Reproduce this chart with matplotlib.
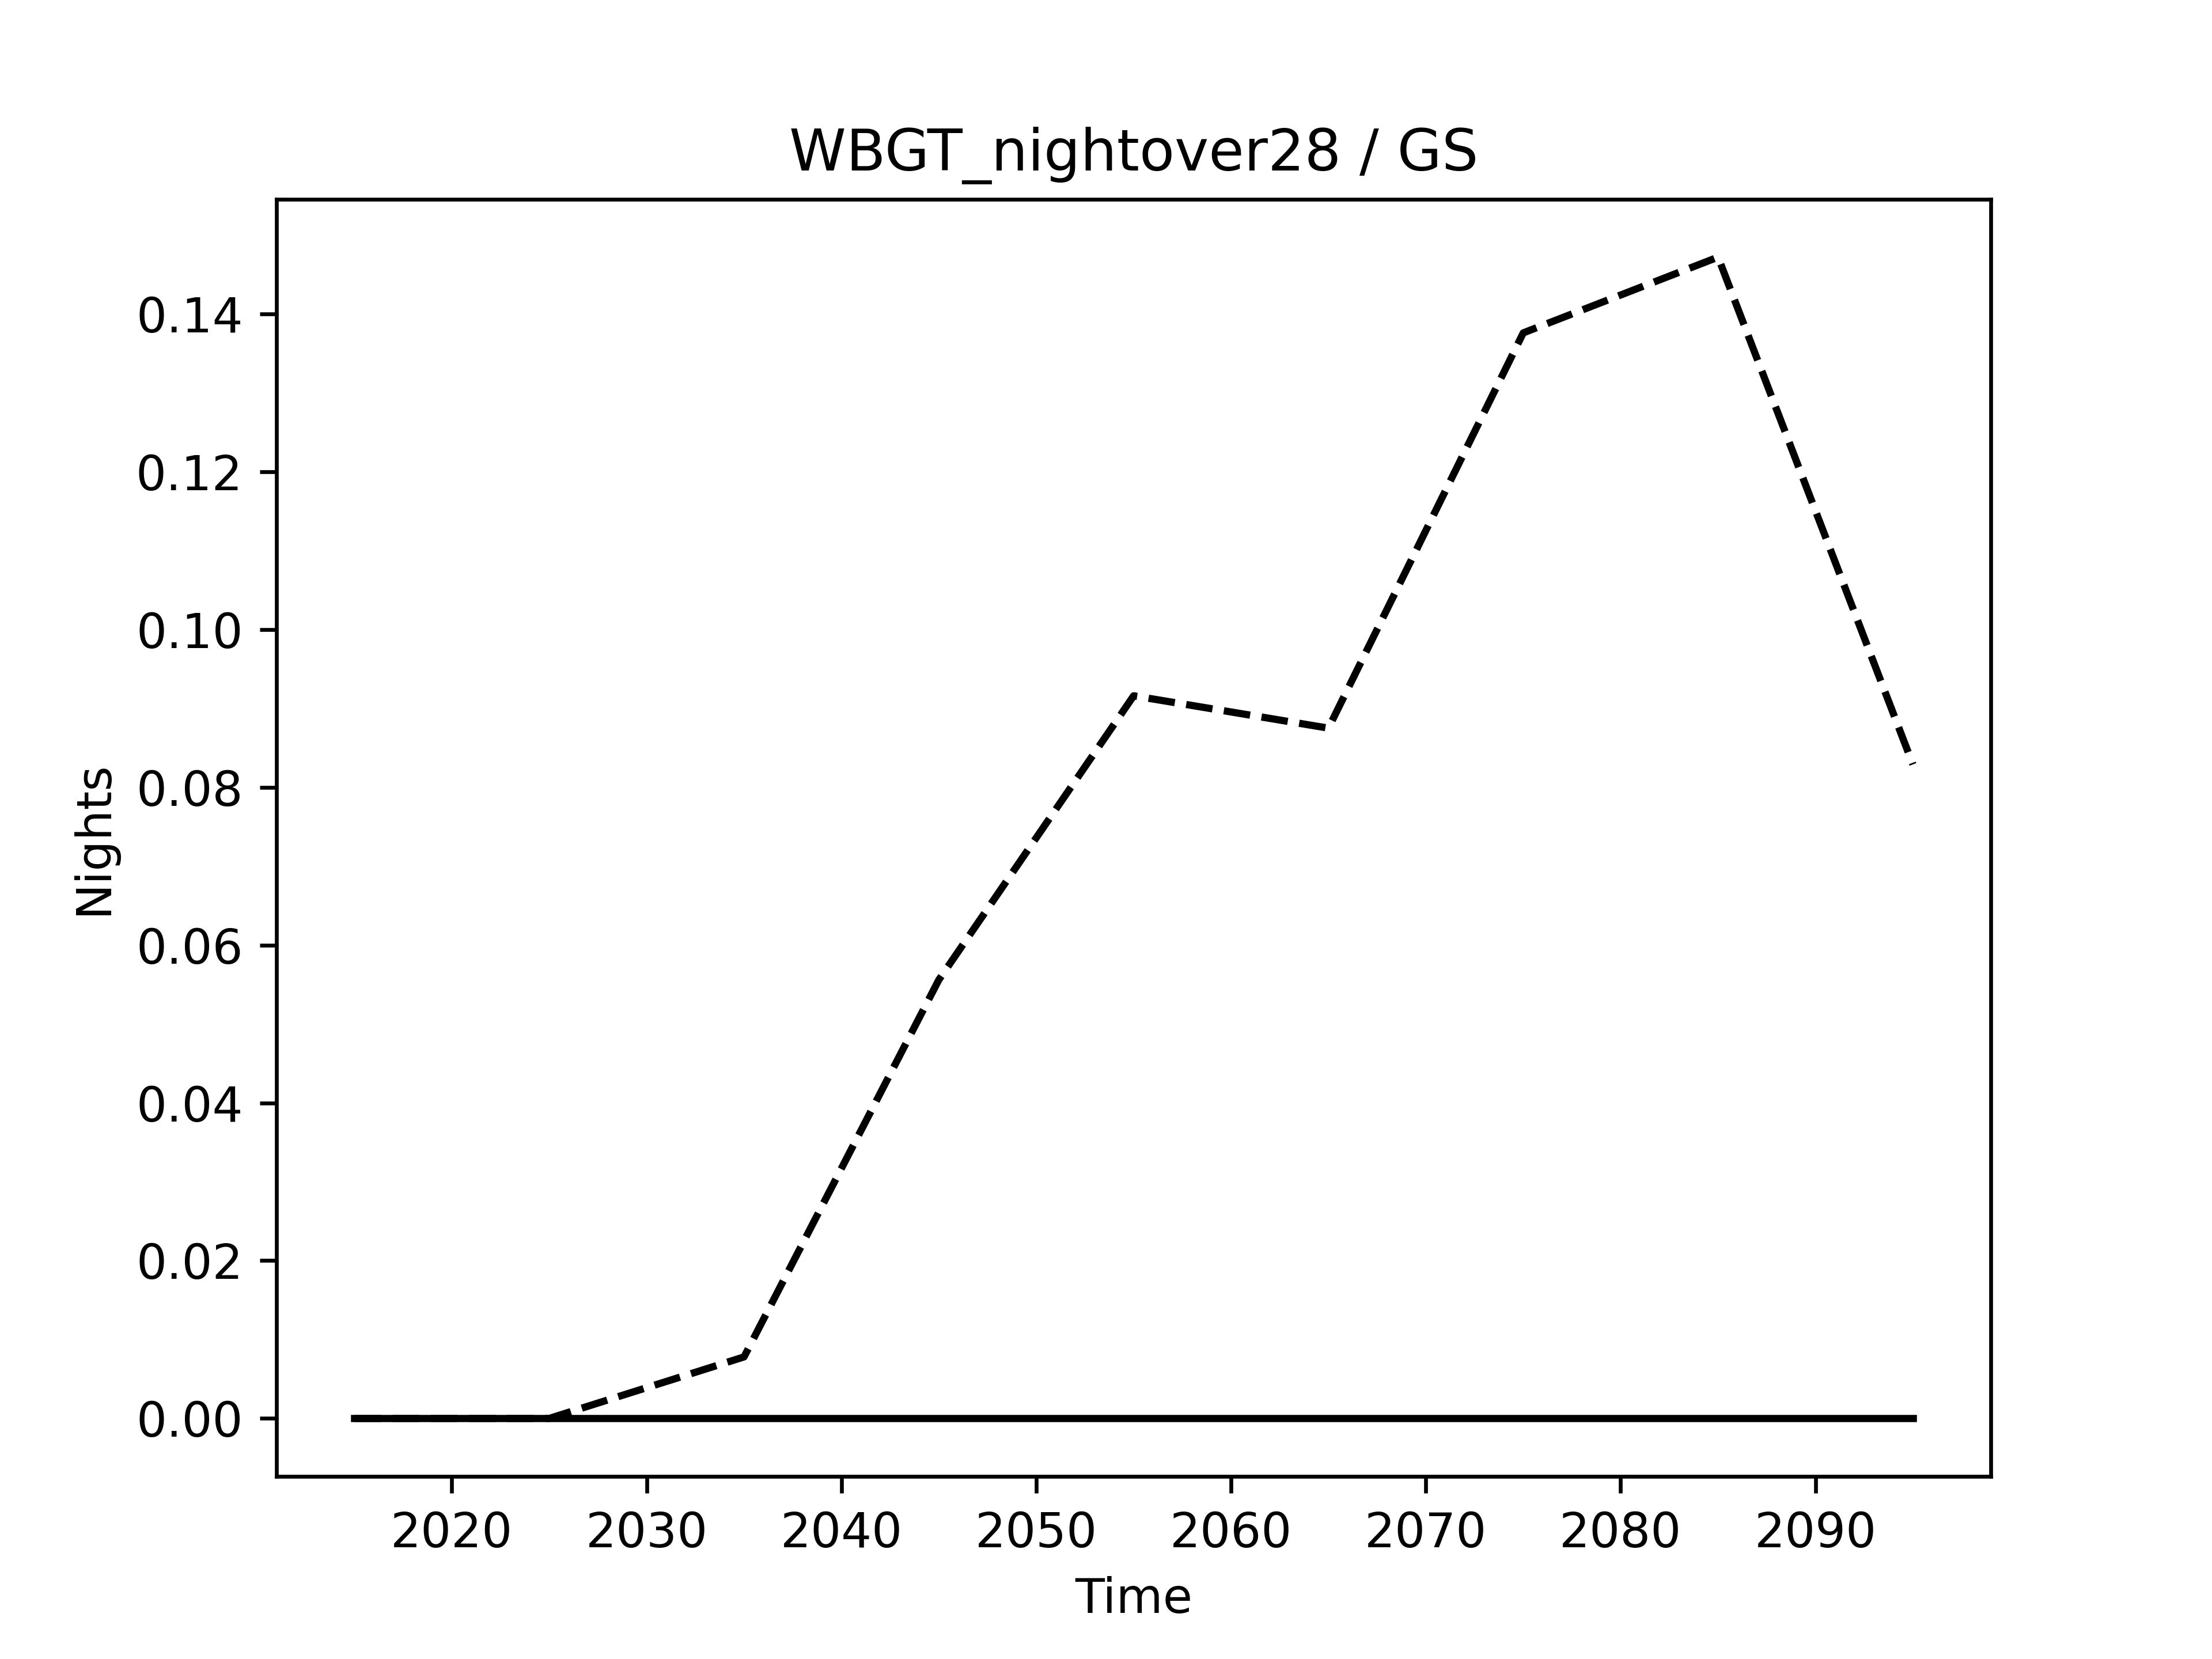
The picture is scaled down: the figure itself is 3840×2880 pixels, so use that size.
import matplotlib
matplotlib.use("Agg")
import matplotlib.pyplot as plt

# decadal midpoints
years = [2015, 2025, 2035, 2045, 2055, 2065, 2075, 2085, 2095]
scenario = [0.0, 0.0, 0.0078, 0.0556, 0.0916, 0.0875, 0.1376, 0.1472, 0.0829]
baseline = [0.0, 0.0, 0.0, 0.0, 0.0, 0.0, 0.0, 0.0, 0.0]

fig, ax = plt.subplots(figsize=(6.4, 4.8))
ax.plot(years, baseline, "-", color="black", lw=1.5)
ax.plot(years, scenario, "--", color="black", lw=1.5)
ax.set(xlabel="Time", ylabel="Nights", title="WBGT_nightover28 / GS")
fig.savefig("out.png", dpi=600)
